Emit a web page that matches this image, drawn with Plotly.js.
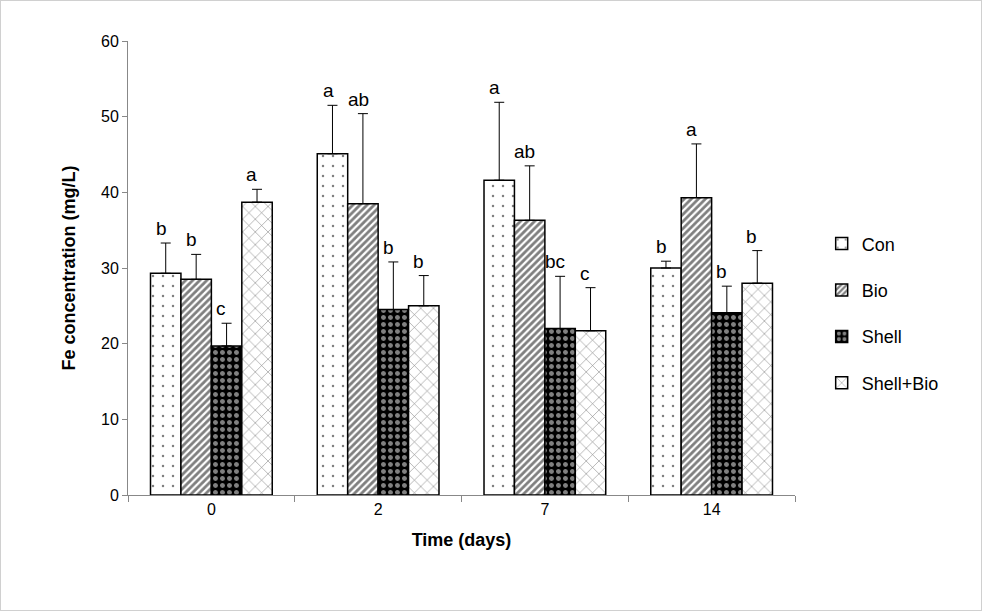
<!DOCTYPE html>
<html>
<head>
<meta charset="utf-8">
<script src="https://cdn.plot.ly/plotly-3.0.1.min.js"></script>
<style>
  html, body { margin: 0; padding: 0; background: #fff; }
  #chart { width: 980px; height: 609px; border: 1px solid #d0d0d0; }
</style>
</head>
<body>
<div id="chart"></div>
<script>
// Fe concentration by time and treatment
const days = ['0', '2', '7', '14'];
const seriesNames = ['Con', 'Bio', 'Shell', 'Shell+Bio'];

const conMean = [29.3, 45.1, 41.6, 30.0];
const bioMean = [28.5, 38.5, 36.3, 39.3];
const shellMean = [19.7, 24.5, 22.0, 24.1];
const shellBioMean = [38.7, 25.0, 21.7, 28.0];

const conErr = [4.0, 6.4, 10.3, 0.9];
const bioErr = [3.3, 11.9, 7.2, 7.1];
const shellErr = [3.0, 6.3, 6.9, 3.5];
const shellBioErr = [1.7, 4.0, 5.7, 4.3];

const conLetters = ['b', 'a', 'a', 'b'];
const bioLetters = ['b', 'ab', 'ab', 'a'];
const shellLetters = ['c', 'b', 'bc', 'b'];
const shellBioLetters = ['a', 'b', 'c', 'b'];

const means = [conMean, bioMean, shellMean, shellBioMean];
const errs = [conErr, bioErr, shellErr, shellBioErr];
const letters = [conLetters, bioLetters, shellLetters, shellBioLetters];

const barColors = ['white', 'white', 'black', 'white'];
const patterns = [
  { shape: '.', fgcolor: 'black', size: 10, solidity: 0.05, fillmode: 'overlay' },
  { shape: '/', fgcolor: 'black', size: 5, solidity: 0.55, fillmode: 'overlay' },
  { shape: '.', fgcolor: 'white', size: 7, solidity: 0.4, fillmode: 'overlay' },
  { shape: 'x', fgcolor: 'black', size: 9, solidity: 0.12, fillmode: 'overlay' }
];

const data = seriesNames.map((name, i) => ({
  type: 'bar',
  name: name,
  legendgroup: name,
  x: days,
  y: means[i],
  marker: { color: barColors[i], line: { color: 'black', width: 1.5 }, pattern: patterns[i] },
  error_y: { type: 'data', symmetric: false, array: errs[i], arrayminus: days.map(() => 0),
             color: 'black', thickness: 1, width: 5 }
}));

// letters above each error bar (x is the category index)
const offsets = [-44, -14, 16, 46];
const annotations = [];
seriesNames.forEach((n, i) => {
  days.forEach((d, j) => {
    annotations.push({
      x: j, y: means[i][j] + errs[i][j], xref: 'x', yref: 'y',
      text: letters[i][j], showarrow: false, xshift: offsets[i] - 6,
      yanchor: 'bottom', yshift: 2,
      font: { size: 19, color: 'black', family: 'Liberation Sans, Arial' }
    });
  });
});

const layout = {
  width: 980, height: 609,
  margin: { l: 127, r: 186, t: 40, b: 115 },
  paper_bgcolor: 'white', plot_bgcolor: 'white',
  font: { family: 'Liberation Sans, Arial', color: 'black', size: 16 },
  barmode: 'group', bargap: 0.27, bargroupgap: 0,
  xaxis: {
    type: 'category', range: [-0.5, 3.5],
    showline: true, linecolor: '#888', ticks: 'outside', ticklen: 6, tickcolor: '#888',
    tickson: 'boundaries',
    tickfont: { size: 16 },
    title: { text: '<b>Time (days)</b>', font: { size: 18 }, standoff: 16 }
  },
  yaxis: {
    range: [0, 60], dtick: 10, showline: true, linecolor: '#888',
    ticks: 'outside', ticklen: 5, tickcolor: '#888', showgrid: false, zeroline: false,
    tickfont: { size: 16 },
    title: { text: '<b>Fe concentration (mg/L)</b>', font: { size: 18 }, standoff: 20 }
  },
  legend: { x: 1.04, y: 0.40, yanchor: 'middle', font: { size: 18 }, tracegroupgap: 20 },
  annotations: annotations
};

Plotly.newPlot('chart', data, layout, { staticPlot: true });
</script>
</body>
</html>
